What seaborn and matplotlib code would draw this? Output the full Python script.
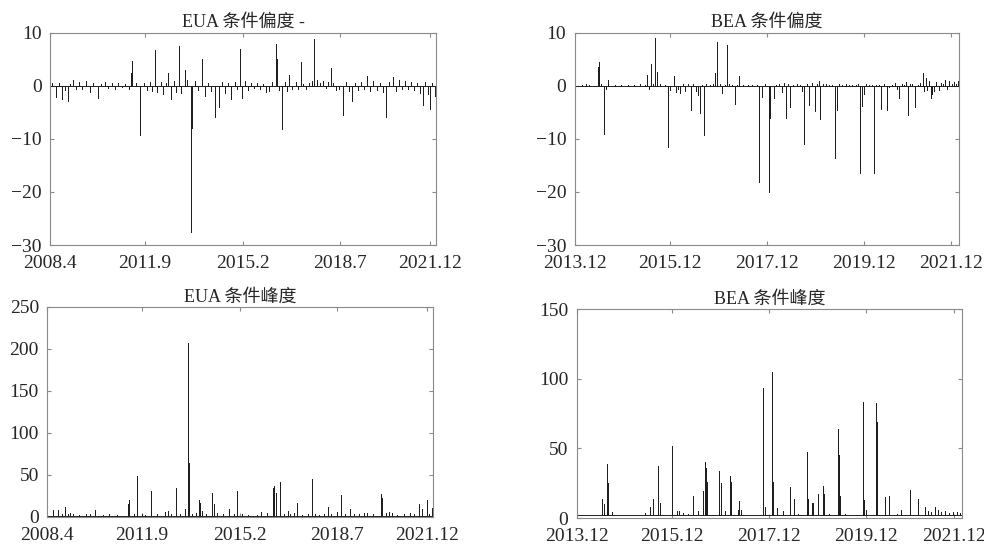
import matplotlib
matplotlib.use('Agg')
from matplotlib import pyplot as plt
import pandas as pd
import seaborn as sns

# Eixo x: posição em % do período de cada série
eua_ticks = [0, 24.6, 50, 75.1, 98.5]
eua_labels = ['2008.4', '2011.9', '2015.2', '2018.7', '2021.12']
bea_ticks = [0, 24.8, 50, 75.1, 97.8]
bea_labels = ['2013.12', '2015.12', '2017.12', '2019.12', '2021.12']

# EUA condicional skewness
eua_skew_pos = [0.5, 1.6, 2.3, 3.1, 3.8, 4.5, 5.2, 6.0, 6.8, 7.5, 8.3, 9.4, 10.3, 11.2, 12.4,
                13.3, 14.2, 15.1, 16.0, 16.8, 17.7, 18.5, 19.4, 20.4, 21.0, 21.3, 22.2, 23.4,
                24.3, 25.0, 25.8, 26.5, 27.1, 27.8, 28.6, 29.3, 30.0, 30.6, 31.2, 32.0, 32.6,
                33.3, 34.0, 34.9, 35.5, 36.6, 36.8, 37.5, 38.3, 39.4, 40.1, 40.9, 41.7, 42.7,
                43.7, 44.5, 45.3, 46.2, 47.0, 47.8, 48.5, 49.3, 49.6, 50.4, 51.2, 52.0, 52.8,
                53.6, 54.4, 55.2, 56.0, 56.8, 57.6, 58.5, 58.7, 59.3, 60.0, 60.8, 61.4, 62.0,
                62.8, 63.6, 64.3, 64.9, 65.6, 66.4, 67.2, 67.9, 68.5, 69.2, 70.0, 70.8, 71.5,
                72.1, 72.7, 73.4, 74.2, 75.0, 76.0, 76.6, 77.4, 78.2, 79.0, 79.8, 80.5, 81.3,
                82.2, 83.0, 83.8, 84.6, 85.4, 86.2, 87.0, 87.8, 88.9, 89.6, 90.4, 91.2, 92.0,
                92.8, 93.6, 94.4, 95.2, 96.0, 96.6, 97.3, 98.0, 98.4, 99.0, 99.7]
eua_skew_val = [0.6, -2.1, 0.5, -2.5, -0.8, -2.8, 0.4, 1.1, -0.6, 0.7, -0.5, 0.9, -1.1, 0.6, -2.3,
                0.4, 0.8, -0.4, 0.5, -0.5, 0.6, -0.3, 0.4, -0.6, 2.5, 4.7, 0.6, -9.3,
                0.5, -0.8, 0.7, -1.0, 6.7, -1.2, 0.8, -1.5, 0.6, 2.4, -2.5, 0.9, -1.2,
                7.5, -1.4, 3.0, 1.2, -27.6, -7.9, 0.9, -0.7, 5.1, -2.0, 0.6, -1.0, -5.9,
                -4.0, 0.8, -1.3, 0.5, -2.5, 0.7, -0.6, 7.0, -2.3, 1.0, -0.7, 0.6, -0.4,
                0.5, -0.6, 0.4, -1.2, -1.0, 0.7, 7.8, 5.0, -0.8, -8.2, 0.7, -0.9, 2.0,
                -0.6, 0.8, -0.5, 4.5, 0.4, -0.5, 0.6, 1.0, 8.9, 1.2, 0.5, 0.9, -0.4,
                0.8, 3.4, 0.5, -0.8, -0.5, -5.5, 0.8, -1.0, -2.8, 0.6, -0.8, 0.7, -0.6,
                1.8, -1.0, 0.9, -0.7, 0.5, -1.1, -5.9, 0.8, 1.7, -0.9, 1.2, -0.6, 0.9,
                -0.5, 0.7, -0.8, 0.6, -1.4, -3.6, 0.8, -1.5, -4.4, 0.6, -2.0]

# BEA condicional skewness
bea_skew_pos = [2.0, 2.9, 3.6, 6.1, 6.3, 6.9, 7.6, 8.1, 8.7, 10.5, 12.0, 13.8, 15.5, 16.9, 18.2,
                18.7, 19.3, 19.8, 20.4, 21.0, 21.3, 22.3, 23.5, 24.3, 24.8, 25.8, 26.3, 26.9,
                27.5, 28.1, 28.7, 29.5, 30.2, 30.8, 31.5, 32.0, 32.5, 33.0, 33.5, 34.2, 35.3,
                36.0, 36.6, 37.1, 37.7, 38.4, 39.0, 39.5, 40.2, 41.0, 41.8, 42.3, 42.8, 43.8,
                45.0, 46.2, 47.3, 47.9, 48.8, 49.5, 50.4, 50.7, 51.7, 52.4, 53.2, 53.9, 54.4,
                54.9, 55.5, 56.0, 56.8, 57.7, 58.5, 59.2, 59.7, 60.3, 61.0, 61.6, 62.5, 63.0,
                63.5, 63.8, 64.5, 65.2, 66.0, 66.9, 67.7, 68.1, 68.8, 69.6, 70.4, 71.3, 72.1,
                73.0, 73.7, 74.2, 74.6, 75.2, 75.8, 76.5, 77.2, 77.7, 78.3, 79.0, 79.6, 80.4,
                81.1, 81.8, 82.5, 83.2, 83.8, 84.4, 85.0, 85.6, 86.1, 86.6, 87.2, 87.8, 88.5,
                89.2, 89.8, 90.5, 90.9, 91.3, 91.7, 92.2, 92.5, 93.0, 93.5, 94.0, 94.6, 95.2,
                95.8, 96.3, 96.8, 97.4, 98.0, 98.6, 99.2, 99.7]
bea_skew_val = [0.2, 0.4, 0.2, 3.5, 4.5, 0.3, -9.0, -0.5, 1.1, 0.1, 0.2, 0.1, 0.2, 0.3, 0.1,
                2.0, -0.6, 4.1, 0.4, 9.1, 2.6, 0.3, 0.2, -11.6, -0.8, 1.8, -1.2, -0.6,
                -1.3, 0.3, -0.9, 0.4, -4.5, 0.3, -1.0, -1.8, -5.1, 0.2, -9.3, 0.3, 0.2,
                0.4, 2.5, 8.3, 0.3, -1.3, 0.2, 7.7, 0.3, 0.1, -3.5, 0.2, 1.8, 0.1,
                0.2, 0.1, 0.2, -18.1, -2.1, 0.3, -20.0, -6.0, -2.3, 0.2, 0.4, -1.2, 0.5,
                -6.0, 0.3, -4.0, 0.2, 0.3, 0.1, -1.0, -11.0, 0.3, -3.6, 0.5, -4.8, 0.4,
                1.0, -6.3, 0.4, 0.3, 0.2, 0.1, -13.5, -4.5, 0.3, 0.2, 0.3, 0.1, 0.2,
                0.1, 0.3, -16.5, -3.8, -1.5, 0.3, 0.1, 0.2, -16.5, 0.2, 0.1, -4.3, 0.3,
                -4.5, -0.3, 0.2, 0.5, -0.6, -2.2, 0.4, 0.2, 0.7, -5.4, 0.4, 0.3, -4.0,
                0.2, 0.6, 2.5, -1.0, 1.4, -0.8, 1.0, -2.3, -1.6, -0.9, 0.7, -0.8, 0.5,
                0.4, 1.2, -0.6, 0.9, 0.4, 0.8, 0.3, 1.0]

# EUA condicional kurtosis
eua_kurt_pos = [1.6, 2.9, 3.7, 4.7, 5.4, 6.0, 6.6, 8.2, 10.0, 11.0, 12.3, 14.5, 16.0, 18.0, 21.0,
                21.3, 22.4, 23.2, 24.5, 25.4, 27.0, 28.5, 30.6, 31.2, 32.2, 33.5, 34.5, 35.6,
                36.4, 36.6, 36.8, 37.6, 38.6, 39.4, 39.7, 40.2, 41.2, 42.8, 43.2, 44.0, 45.5,
                47.2, 48.3, 49.3, 50.5, 52.0, 54.3, 55.5, 57.0, 58.5, 58.8, 59.2, 60.3, 61.3,
                62.3, 63.0, 64.0, 64.8, 66.0, 67.5, 68.6, 69.3, 70.5, 71.8, 72.8, 73.6, 75.2,
                76.2, 77.3, 78.5, 79.5, 80.7, 82.0, 83.0, 84.5, 86.5, 86.8, 87.8, 88.6, 89.4,
                90.6, 92.4, 94.0, 95.0, 96.5, 97.2, 98.4, 99.0, 99.7]
eua_kurt_val = [8, 8.5, 3, 12, 3, 5, 4, 2.5, 3, 3.5, 8.5, 2.5, 3, 2.5, 15,
                20, 3, 49, 3, 2.5, 31, 3, 6, 7, 4, 34, 3, 9.5,
                207, 94, 64, 3, 5, 20, 16, 7, 4, 29, 15, 5, 4,
                9.5, 3, 31, 3, 2.5, 2.5, 6, 5, 35, 37, 28, 42, 4,
                7, 3, 5, 17, 2.5, 3, 45, 4, 2.5, 3, 12, 4, 6,
                26, 3, 10, 3, 4, 5, 5, 3, 27, 22, 5, 6, 5,
                2.5, 4, 5, 3, 15, 9, 20, 4, 11]

# BEA condicional kurtosis
bea_kurt_pos = [6.6, 7.0, 7.8, 8.0, 8.2, 9.2, 17.8, 18.9, 19.9, 21.2, 21.5, 24.6, 24.8, 26.0,
                26.5, 27.5, 29.0, 30.3, 31.5, 32.8, 33.4, 33.6, 33.8, 37.0, 37.3, 38.5, 39.7,
                39.9, 41.8, 42.1, 42.6, 45.5, 48.2, 48.8, 50.7, 50.9, 52.0, 53.6, 55.3, 56.3,
                57.5, 59.7, 60.0, 61.0, 61.3, 62.5, 63.8, 64.1, 65.5, 67.8, 68.0, 68.4, 69.5,
                72.0, 74.3, 74.6, 75.1, 77.6, 77.8, 79.9, 81.0, 83.0, 84.1, 86.5, 88.5, 90.4,
                91.0, 91.8, 93.0, 93.6, 94.5, 95.5, 96.5, 97.5, 98.6, 99.5]
bea_kurt_val = [14, 10, 39, 34, 25, 4, 3.5, 8, 14, 37, 11, 52, 9.5, 5,
                5, 3.5, 3, 15.5, 5, 19.6, 40, 36, 26, 34, 25, 5, 30,
                26, 6, 12.5, 6, 2, 93, 8, 105, 26, 7, 5, 22, 13.5,
                3, 47.6, 14, 11, 11, 17, 23, 17, 3, 64, 45, 16, 3,
                2.5, 83, 13, 6, 82.6, 68.6, 15, 15.5, 3, 6, 20, 14, 8,
                5, 4, 8, 6, 4, 5, 3.5, 4, 4.5, 3.5]


def serie(pos, val, base):
    # cada ponto vira um pico vertical a partir da linha de base
    xs, ys = [0], [base]
    for p, v in zip(pos, val):
        xs += [p, p, p]
        ys += [base, v, base]
    xs.append(100)
    ys.append(base)
    return pd.DataFrame({'x': xs, 'y': ys})


sns.set_style('ticks')
plt.rcParams['font.family'] = ['Liberation Serif', 'Noto Sans CJK SC']
plt.rcParams['axes.unicode_minus'] = True

fig = plt.figure(figsize=(9.84, 5.47), dpi=100)

paineis = [
    ([0.051, 0.552, 0.392, 0.388], serie(eua_skew_pos, eua_skew_val, 0.0), 'EUA 条件偏度 -',
     (-30, 10), [-30, -20, -10, 0, 10], eua_ticks, eua_labels),
    ([0.584, 0.552, 0.391, 0.388], serie(bea_skew_pos, bea_skew_val, 0.0), 'BEA 条件偏度',
     (-30, 10), [-30, -20, -10, 0, 10], bea_ticks, bea_labels),
    ([0.048, 0.055, 0.392, 0.384], serie(eua_kurt_pos, eua_kurt_val, 1.0), 'EUA 条件峰度',
     (0, 250), [0, 50, 100, 150, 200, 250], eua_ticks, eua_labels),
    ([0.586, 0.053, 0.392, 0.382], serie(bea_kurt_pos, bea_kurt_val, 2.5), 'BEA 条件峰度',
     (0, 150), [0, 50, 100, 150], bea_ticks, bea_labels),
]

for rect, df, titulo, ylim, yticks, xticks, xlabels in paineis:
    ax = fig.add_axes(rect)
    sns.lineplot(data=df, x='x', y='y', ax=ax, estimator=None, sort=False,
                 color='#1e1e1e', linewidth=0.7)
    ax.set_xlim(0, 100)
    ax.set_ylim(*ylim)
    ax.set_yticks(yticks)
    ax.set_xticks(xticks)
    ax.set_xticklabels(xlabels)
    ax.set_xlabel('')
    ax.set_ylabel('')
    ax.set_title(titulo, fontsize=13, pad=4)
    ax.tick_params(direction='in', top=True, right=True, length=3, width=0.8,
                   color='#8a8a8a', labelsize=14)
    ax.tick_params(axis='x', pad=7.5)
    ax.tick_params(axis='y', pad=6)
    for s in ax.spines.values():
        s.set_visible(True)
        s.set_color('#8a8a8a')
        s.set_linewidth(0.8)

fig.savefig('out.png', dpi=100)
